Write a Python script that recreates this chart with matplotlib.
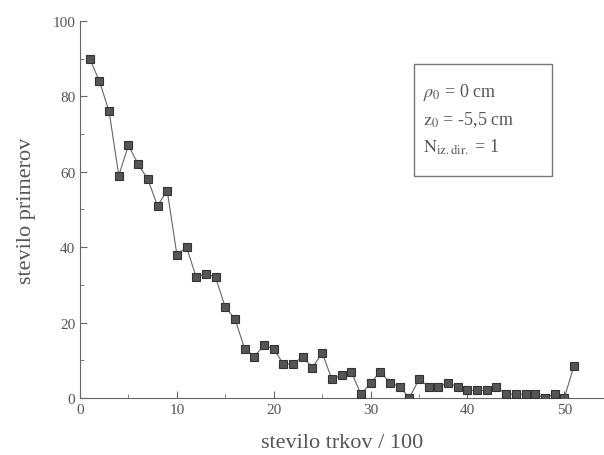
import numpy as np
import matplotlib.pyplot as plt
from matplotlib.patches import Rectangle
from matplotlib.ticker import MultipleLocator

# data
runs = np.arange(1, 52)
counts = np.array([
    90, 84, 76, 59, 67, 62, 58, 51, 55, 38,
    40, 32, 33, 32, 24, 21, 13, 11, 14, 13,
    9, 9, 11, 8, 12, 5, 6, 7, 1, 4,
    7, 4, 3, 0, 5, 3, 3, 4, 3, 2,
    2, 2, 3, 1, 1, 1, 1, 0, 1, 0, 8.5
], dtype=float)

x_ticks = [0, 10, 20, 30, 40, 50]
y_ticks = [0, 20, 40, 60, 80, 100]

box_lines = [r'$\rho_0$ = 0 cm', r'$\mathrm{z}_0$ = -5,5 cm',
             r'$\mathrm{N}_{\mathrm{iz.dir.}}$ = 1']

plt.rcParams['font.family'] = ['Liberation Serif', 'DejaVu Serif']
plt.rcParams['mathtext.fontset'] = 'stix'
plt.rcParams['mathtext.rm'] = 'Liberation Serif'
plt.rcParams['mathtext.it'] = 'Liberation Serif'
ink = '#555555'

fig = plt.figure(figsize=(6.04, 4.56), dpi=100)
ax = fig.add_axes([0.1325, 0.125, 0.8675, 0.827])

ax.plot(runs, counts, '-', color='#666666', lw=0.8, zorder=2)
ax.plot(runs, counts, 's', color='#555555', markeredgecolor='#333333',
        markersize=5.5, markeredgewidth=0.8, zorder=3)

ax.set_xlim(0, 54.1)
ax.set_ylim(0, 100)
ax.set_xticks(x_ticks)
ax.set_yticks(y_ticks)
ax.xaxis.set_minor_locator(MultipleLocator(5))
ax.yaxis.set_minor_locator(MultipleLocator(10))
ax.tick_params(which='both', direction='in', colors='#666666', labelcolor=ink,
               labelsize=11)
ax.tick_params(which='major', length=5)
ax.tick_params(which='minor', length=3)
ax.spines['top'].set_visible(False)
ax.spines['right'].set_visible(False)
for s in ('left', 'bottom'):
    ax.spines[s].set_color('#666666')

ax.set_xlabel('stevilo trkov / 100', fontsize=16, color=ink, labelpad=12)
ax.set_ylabel('stevilo primerov', fontsize=16, color=ink, labelpad=12)

# parameter box
ax.add_patch(Rectangle((0.637, 0.589), 0.264, 0.297, transform=ax.transAxes,
                       facecolor='white', edgecolor='#777777', lw=1.0, zorder=4))
for i, line in enumerate(box_lines):
    ax.text(0.655, 0.812 - i * 0.072, line, transform=ax.transAxes,
            fontsize=13, color=ink, va='center', ha='left', zorder=5)

plt.savefig('out.png', dpi=100)
